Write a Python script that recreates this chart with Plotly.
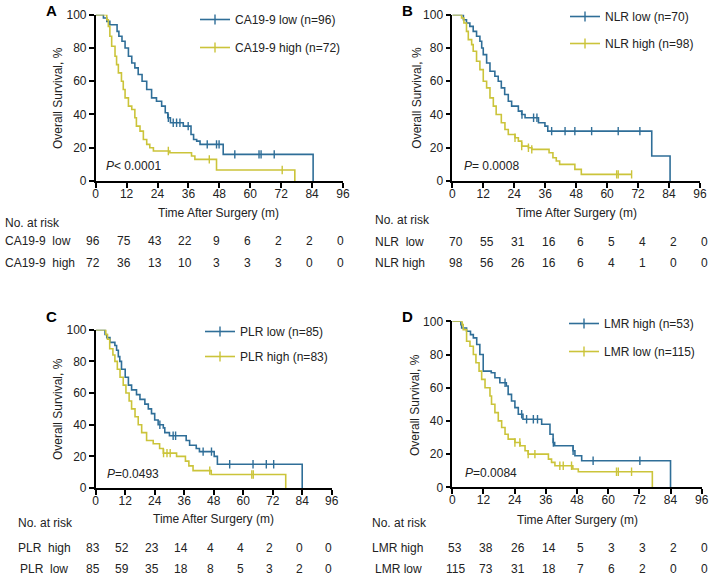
import numpy as np
import plotly.graph_objects as go

W, H = 710, 576
BLUE = "#2f6e98"
YELLOW = "#cbc43a"
TXT = "#222222"
FONT = "Arial, 'Liberation Sans', Helvetica, sans-serif"
FS = 12

# ---------------- data ----------------
risk_times = [0, 12, 24, 36, 48, 60, 72, 84, 96]

# Panel A: CA19-9
a_low_t = [0, 3.0, 4.3, 5.5, 8.3, 9.0, 10.2, 11.4, 12.7, 14.0, 15.2, 16.5, 18.0, 19.8, 21.7, 23.6,
           25.6, 27.0, 28.0, 29.0, 34.0, 37.0, 38.0, 39.2, 40.5, 49.5, 84.4]
a_low_s = [100, 98, 96, 94, 90, 87, 84, 80, 75, 71, 68, 64, 60, 55, 50, 48,
           45, 41, 38, 35, 33, 28, 25, 24, 22, 16, 0]
a_low_c = [28.2, 30.1, 31.4, 32.7, 35.9, 43.3, 46.9, 47.9, 54.0, 63.4, 64.2, 69.3]
a_high_t = [0, 4.3, 4.9, 5.5, 6.2, 7.5, 8.1, 8.8, 10.0, 10.7, 11.4, 12.7, 14.0, 15.2, 15.8,
            17.2, 18.5, 19.8, 21.0, 22.4, 28.8, 37.2, 38.5, 46.9, 77.3]
a_high_s = [100, 97, 93, 87, 81, 75, 70, 65, 60, 55, 50, 45, 43, 38, 33,
            30, 25, 22, 20, 18, 17, 15, 13, 6.6, 0]
a_high_c = [28.2, 44.1, 72.4]
a_low_risk = [96, 75, 43, 22, 9, 6, 2, 2, 0]
a_high_risk = [72, 36, 13, 10, 3, 3, 3, 0, 0]

# Panel B: NLR
b_low_t = [0, 4.3, 5.5, 6.8, 8.1, 9.4, 10.7, 11.4, 12.0, 13.3, 14.6, 16.5, 17.8, 19.0, 20.3, 21.7,
           23.0, 25.6, 26.9, 28.2, 33.4, 35.9, 37.0, 77.3, 84.4]
b_low_s = [100, 97, 95, 93, 90, 87, 84, 80, 76, 71, 66, 63, 60, 56, 52, 48,
           45, 42, 40, 38, 35, 33, 30, 15, 0]
b_low_c = [27.0, 31.5, 32.8, 38.5, 43.7, 47.5, 54.0, 64.3, 72.7]
b_high_t = [0, 3.6, 4.5, 5.5, 6.2, 7.5, 8.1, 9.4, 10.7, 12.0, 13.3, 14.6, 15.9, 17.0, 19.0, 20.4,
            21.7, 24.3, 25.6, 26.9, 29.5, 30.8, 37.5, 39.0, 40.3, 41.6, 47.5, 50.0, 69.5]
b_high_s = [100, 98, 95, 90, 85, 82, 78, 72, 67, 60, 56, 50, 45, 40, 35, 31,
            28, 26, 24, 21, 20, 19, 17, 14, 12, 10, 7, 4, 4]
b_high_c = [24.3, 26.9, 29.5, 30.8, 63.7, 64.3, 69.5]
b_low_risk = [70, 55, 31, 16, 6, 5, 4, 2, 0]
b_high_risk = [98, 56, 26, 16, 6, 4, 1, 0, 0]

# Panel C: PLR
c_low_t = [0, 3.8, 4.5, 5.8, 7.8, 8.5, 9.2, 9.8, 10.5, 12.0, 13.3, 14.6, 16.6, 18.0, 20.0, 21.4,
           22.7, 24.0, 25.4, 27.5, 28.1, 30.0, 36.8, 38.2, 40.9, 42.2, 48.2, 49.5, 84.0]
c_low_s = [100, 97, 95, 92, 90, 87, 83, 80, 75, 70, 65, 62, 59, 56, 53, 50,
           47, 43, 40, 38, 35, 33, 30, 27, 25, 23, 20, 15, 0]
c_low_c = [26.1, 31.5, 32.5, 43.7, 47.1, 54.5, 64.0, 69.4, 72.4]
c_high_t = [0, 4.1, 4.8, 5.7, 7.0, 7.8, 8.8, 9.9, 11.2, 12.3, 13.6, 14.6, 16.0, 17.3, 18.7, 20.7,
            23.4, 26.0, 27.5, 32.9, 36.5, 37.9, 39.6, 47.0, 77.3]
c_high_s = [100, 97, 94, 88, 84, 80, 75, 70, 65, 60, 55, 50, 45, 40, 35, 30,
            28, 25, 22, 20, 17, 14, 11, 8.5, 0]
c_high_c = [27.6, 29.0, 30.3, 46.4, 63.5, 64.1]
c_high_risk = [83, 52, 23, 14, 4, 4, 2, 0, 0]
c_low_risk = [85, 59, 35, 18, 8, 5, 3, 2, 0]

# Panel D: LMR
d_high_t = [0, 3.3, 3.6, 5.5, 7.0, 8.1, 9.4, 10.6, 11.9, 15.0, 16.4, 18.3, 20.8, 21.5, 22.8, 24.1,
            25.4, 27.2, 34.4, 37.6, 38.8, 39.4, 46.5, 47.2, 49.8, 84.0]
d_high_s = [100, 98, 96, 94, 92, 90, 86, 80, 70, 69, 66, 63, 61, 56, 52, 48,
            44, 41, 38, 32, 27, 25, 22, 19, 16, 0]
d_high_c = [20.3, 26.7, 28.6, 31.2, 32.8, 38.9, 46.5, 54.2, 72.2]
d_low_t = [0, 3.8, 4.2, 5.5, 6.8, 8.1, 9.1, 10.3, 11.3, 12.6, 14.5, 15.1, 16.4, 17.7, 19.0, 20.3,
           21.5, 24.1, 26.1, 28.0, 29.2, 37.0, 38.2, 39.5, 46.4, 48.5, 77.0]
d_low_s = [100, 98, 95, 88, 85, 80, 75, 70, 65, 60, 55, 50, 45, 40, 36, 32,
           29, 27, 25, 22, 20, 17, 15, 13, 11, 9.4, 0]
d_low_c = [24.1, 26.0, 29.2, 31.8, 41.4, 42.7, 45.9, 63.2, 63.9, 69.0]
d_high_risk = [53, 38, 26, 14, 5, 3, 3, 2, 0]
d_low_risk = [115, 73, 31, 18, 7, 6, 2, 0, 0]

# ---------------- helpers ----------------
def fx(px):
    return px / W


def fy(py):
    return 1 - py / H


def surv_at(times, surv, t):
    i = np.searchsorted(np.asarray(times), t, side="right") - 1
    return surv[max(i, 0)]


panels = [
    dict(letter="A", n="", xdom=(95.7, 343), ydom=(14.7, 181),
         series=[("CA19-9 low (n=96)", BLUE, a_low_t, a_low_s, a_low_c),
                 ("CA19-9 high (n=72)", YELLOW, a_high_t, a_high_s, a_high_c)],
         rows=[("CA19-9&nbsp;&nbsp;low", a_low_risk, 3, 240.7),
               ("CA19-9&nbsp;&nbsp;high", a_high_risk, 3, 262.7)],
         nar=(3, 222.7), letter_pos=(51, 10.5), p_text="<i>P</i>&lt; 0.0001", p_pos=(104, 165.7),
         ytitle=(58, 98), xtitle=(219, 213), leg=(195, 5), gap=9, rshift=-3),
    dict(letter="B", n="2", xdom=(452.3, 700), ydom=(14.7, 181),
         series=[("NLR low (n=70)", BLUE, b_low_t, b_low_s, b_low_c),
                 ("NLR high (n=98)", YELLOW, b_high_t, b_high_s, b_high_c)],
         rows=[("NLR&nbsp;&nbsp;low", b_low_risk, 373, 242),
               ("NLR high", b_high_risk, 373, 263)],
         nar=(373, 220), letter_pos=(407, 10), p_text="<i>P</i>= 0.0008", p_pos=(462, 165.7),
         ytitle=(416.7, 98), xtitle=(576, 213), leg=(565, 2), gap=8, rshift=4),
    dict(letter="C", n="3", xdom=(95.7, 331.7), ydom=(329.7, 488),
         series=[("PLR low (n=85)", BLUE, c_low_t, c_low_s, c_low_c),
                 ("PLR high (n=83)", YELLOW, c_high_t, c_high_s, c_high_c)],
         rows=[("PLR&nbsp;&nbsp;high", c_high_risk, 16, 547.7),
               ("PLR&nbsp;&nbsp;low", c_low_risk, 18, 569)],
         nar=(16, 523), letter_pos=(51, 316), p_text="<i>P</i>=0.0493", p_pos=(105, 474),
         ytitle=(58, 409), xtitle=(213, 519), leg=(200, 317), gap=6, rshift=-3),
    dict(letter="D", n="4", xdom=(452.3, 701.7), ydom=(321.3, 487.3),
         series=[("LMR high (n=53)", BLUE, d_high_t, d_high_s, d_high_c),
                 ("LMR low (n=115)", YELLOW, d_low_t, d_low_s, d_low_c)],
         rows=[("LMR high", d_high_risk, 370, 547.7),
               ("LMR low", d_low_risk, 373, 569)],
         nar=(370, 523), letter_pos=(407, 316.5), p_text="<i>P</i>=0.0084", p_pos=(463, 473),
         ytitle=(415, 405), xtitle=(577, 520), leg=(564, 309), gap=9, rshift=3),
]

fig = go.Figure()
annotations = []
layout = dict(
    width=W, height=H, margin=dict(l=0, r=0, t=0, b=0, autoexpand=False),
    paper_bgcolor="white", plot_bgcolor="white",
    font=dict(family=FONT, size=FS, color=TXT),
    showlegend=True,
)


def note(text, x, y, xanchor="center", xref="paper", **kw):
    d = dict(text=text, x=x, y=y, xref=xref, yref="paper", xanchor=xanchor,
             yanchor="middle", showarrow=False, font=dict(size=FS, color=TXT))
    d.update(kw)
    annotations.append(d)


for p in panels:
    n = p["n"]
    xref, yref = "x" + n, "y" + n
    legname = "legend" + n
    for name, color, t, s, cens in p["series"]:
        fig.add_trace(go.Scatter(
            x=t, y=s, mode="lines", line=dict(color=color, width=1.6, shape="hv"),
            xaxis=xref, yaxis=yref, showlegend=False, hoverinfo="skip"))
        cy = [surv_at(t, s, c) for c in cens]
        fig.add_trace(go.Scatter(
            x=cens, y=cy, mode="markers",
            marker=dict(symbol="line-ns", size=6, line=dict(color=color, width=1.4)),
            xaxis=xref, yaxis=yref, showlegend=False, hoverinfo="skip"))
    for gi, (name, color, t, s, cens) in enumerate(p["series"]):
        fig.add_trace(go.Scatter(
            x=[None], y=[None], mode="lines+markers", name=name,
            line=dict(color=color, width=1.6),
            marker=dict(symbol="line-ns", size=7, line=dict(color=color, width=1.4)),
            xaxis=xref, yaxis=yref, legend=legname, legendgroup=f"{p['letter']}{gi}"))

    axis_common = dict(showline=True, linecolor="black", linewidth=1.5, ticks="outside",
                       ticklen=5, tickwidth=1.5, tickcolor="black", showgrid=False,
                       zeroline=False, tickfont=dict(size=FS, color=TXT))
    layout["xaxis" + n] = dict(axis_common, domain=[fx(p["xdom"][0]), fx(p["xdom"][1])],
                               range=[0, 96], tickvals=risk_times, anchor=yref,
                               ticklabelstandoff=-4)
    layout["yaxis" + n] = dict(axis_common, domain=[fy(p["ydom"][1]), fy(p["ydom"][0])],
                               range=[0, 100], tickvals=[0, 20, 40, 60, 80, 100], anchor=xref)
    layout[legname] = dict(x=fx(p["leg"][0]), y=fy(p["leg"][1]), xanchor="left", yanchor="top",
                           bgcolor="rgba(0,0,0,0)", font=dict(size=FS, color=TXT),
                           tracegroupgap=p["gap"], itemclick=False)

    note(f"<b>{p['letter']}</b>", fx(p["letter_pos"][0]), fy(p["letter_pos"][1]),
         font=dict(size=15, color="black"))
    note(p["p_text"], fx(p["p_pos"][0]), fy(p["p_pos"][1]), xanchor="left")
    note("Overall Survival, %", fx(p["ytitle"][0]), fy(p["ytitle"][1]), textangle=-90)
    note("Time After Surgery (m)", fx(p["xtitle"][0]), fy(p["xtitle"][1]))
    note("No. at risk", fx(p["nar"][0]), fy(p["nar"][1]), xanchor="left")
    for label, vals, lx, ly in p["rows"]:
        note(label, fx(lx), fy(ly), xanchor="left")
        for tv, v in zip(risk_times, vals):
            note(str(v), tv, fy(ly), xref=xref, xshift=p["rshift"])

layout["annotations"] = annotations
fig.update_layout(**layout)
fig.write_html("out.html", config={"displayModeBar": False},
               post_script="document.body.style.margin='0';")
